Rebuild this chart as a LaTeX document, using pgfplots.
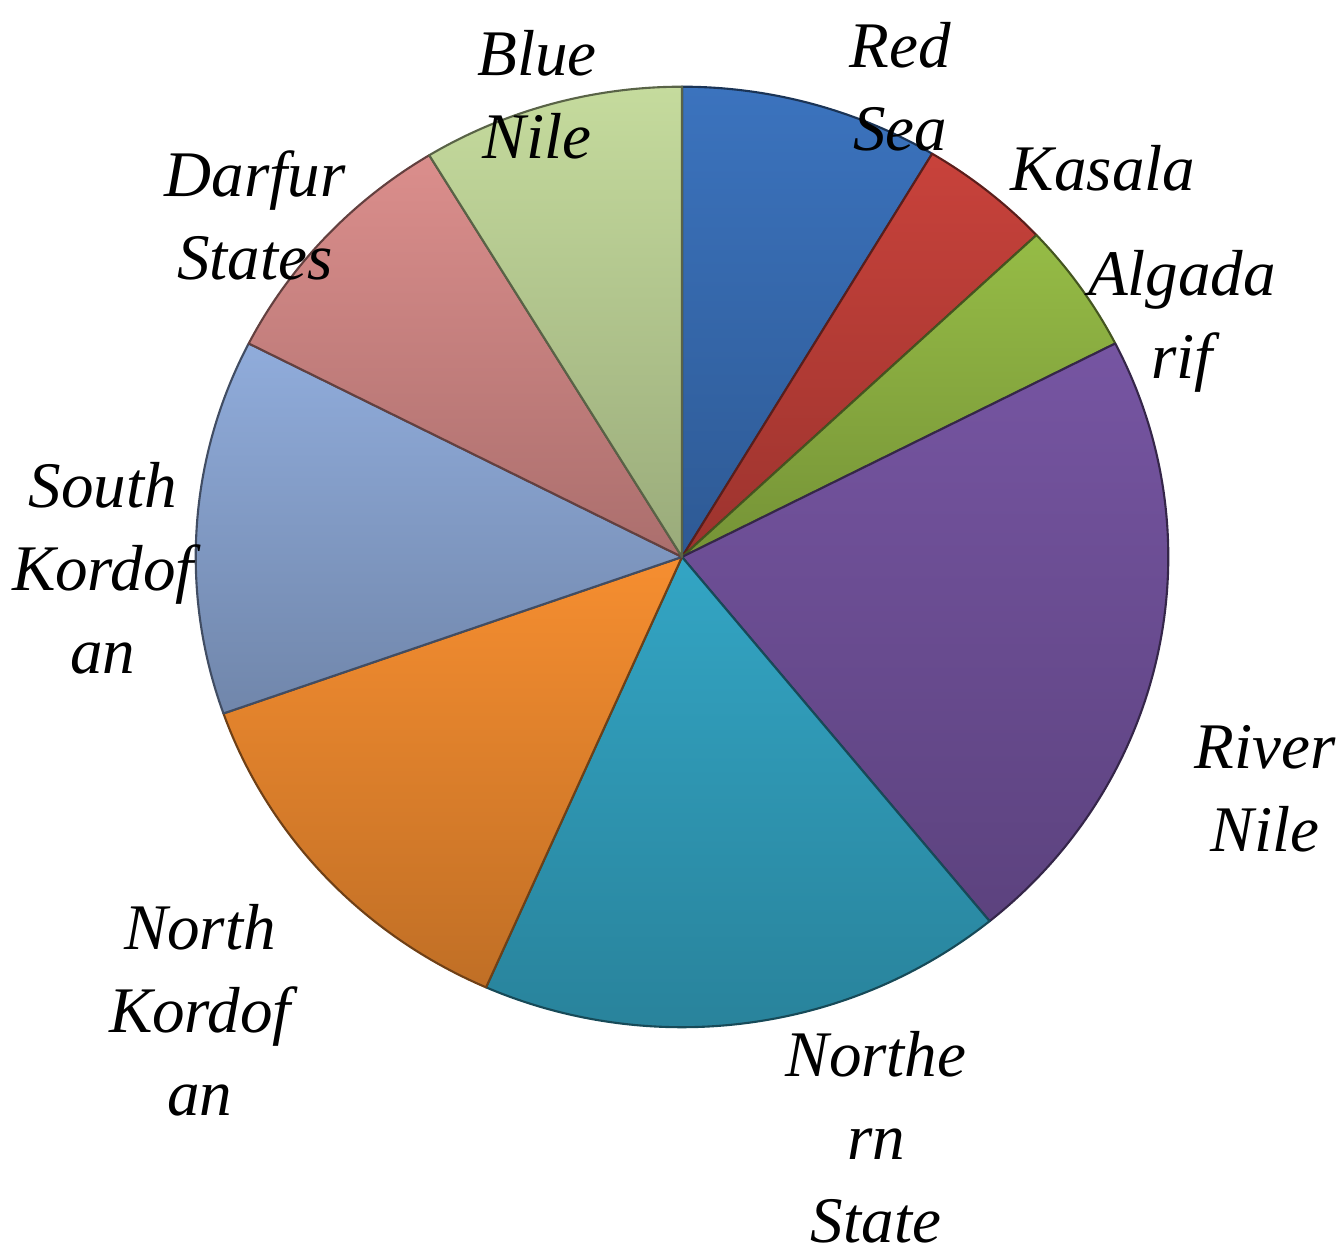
\documentclass[border=0pt]{standalone}
\usepackage{pgfplots}
\pgfplotsset{compat=1.18}
\usepackage{pgfplotstable}
\usepackage{fontspec}
\setmainfont{Liberation Serif}

\definecolor{c0}{HTML}{3B73BE}% Red Sea
\definecolor{c1}{HTML}{C8423B}% Kasala
\definecolor{c2}{HTML}{96BC46}% Algadarif
\definecolor{c3}{HTML}{7655A2}% River Nile
\definecolor{c4}{HTML}{33A5C4}% Northern State
\definecolor{c5}{HTML}{F68E30}% North Kordofan
\definecolor{c6}{HTML}{90ACDB}% South Kordofan
\definecolor{c7}{HTML}{DB8E8C}% Darfur States
\definecolor{c8}{HTML}{C5DB9D}% Blue Nile

% share (%) of each state, clockwise from 12 o'clock
\pgfplotstableread{
id value
0 8.6
1 4.4
2 4.5
3 21.6
4 17.5
5 13.0
6 12.9
7 8.8
8 8.7
}\piedata

\gdef\cum{0}
\foreach \i in {0,...,8}{%
  \pgfplotstablegetelem{\i}{value}\of\piedata
  \pgfmathsetmacro\a{90-3.6*\cum}%
  \pgfmathsetmacro\newcum{\cum+\pgfplotsretval}%
  \pgfmathsetmacro\b{90-3.6*\newcum}%
  \expandafter\xdef\csname sA\i\endcsname{\a}%
  \expandafter\xdef\csname eA\i\endcsname{\b}%
  \xdef\cum{\newcum}%
}

\begin{document}
\begin{tikzpicture}[lbl/.style={font=\itshape\fontsize{18.5}{23.6}\selectfont, align=center, inner sep=0pt}]
\begin{axis}[
  x=0.01cm, y=0.01cm,
  xmin=0, xmax=1342, ymin=0, ymax=1254,
  hide axis, clip=false,
]
\path (axis cs:0,0) rectangle (axis cs:1342,1254);
\pgfplotsinvokeforeach{0,...,8}{
  \shade[top color=c#1, bottom color=c#1!78!black, draw=c#1!45!black, line width=0.6pt, line join=round]
    (axis cs:682,697) -- ++(\csname sA#1\endcsname:4.86cm and 4.70cm)
    arc[start angle=\csname sA#1\endcsname, end angle=\csname eA#1\endcsname, x radius=4.86cm, y radius=4.70cm] -- cycle;
}
\node[lbl] at (axis cs:900,1167) {Red\\Sea};
\node[lbl] at (axis cs:1103,1086) {Kasala};
\node[lbl] at (axis cs:1182,933) {Algada\\rif};
\node[lbl] at (axis cs:1265,465) {River\\Nile};
\node[lbl] at (axis cs:876,117) {Northe\\rn\\State};
\node[lbl] at (axis cs:200,244) {North\\Kordof\\an};
\node[lbl] at (axis cs:103,686) {South\\Kordof\\an};
\node[lbl] at (axis cs:255,1039) {Darfur\\States};
\node[lbl] at (axis cs:537,1159) {Blue\\Nile};
\end{axis}
\end{tikzpicture}
\end{document}
